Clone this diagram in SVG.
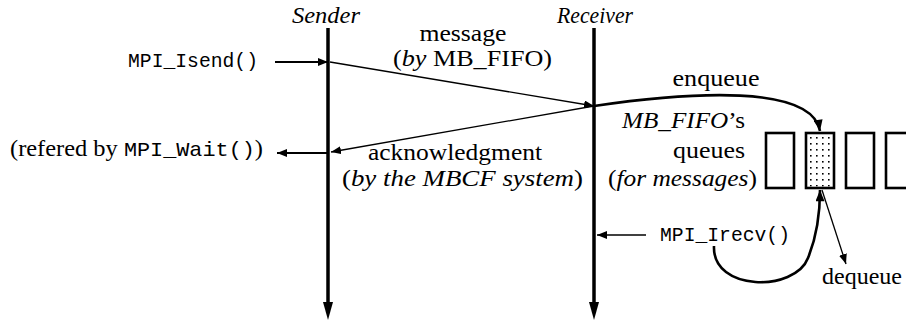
<svg xmlns="http://www.w3.org/2000/svg" width="906" height="324" viewBox="0 0 906 324">
<style>
.rm{font-family:"Liberation Serif","DejaVu Serif",serif;font-size:23.5px;fill:#000}
.it{font-style:italic}
.tt{font-family:"Liberation Mono","DejaVu Sans Mono",monospace;font-size:21px}
.life{stroke:#000;stroke-width:3.5;fill:none}
.thin{stroke:#000;stroke-width:1.3;fill:none}
.med{stroke:#000;stroke-width:2;fill:none}
.thick{stroke:#000;stroke-width:2.6;fill:none}
.box{fill:#fff;stroke:#000;stroke-width:2.6}
</style>
<defs>
<marker id="ah" viewBox="0 0 10 8" refX="10" refY="4" markerWidth="10" markerHeight="8" markerUnits="userSpaceOnUse" orient="auto"><path d="M0,0L10,4L0,8z" fill="#000"/></marker>
<marker id="ahb" viewBox="0 0 10 8" refX="10" refY="4" markerWidth="12" markerHeight="9" markerUnits="userSpaceOnUse" orient="auto"><path d="M0,0L10,4L0,8z" fill="#000"/></marker>
<pattern id="dots" x="808" y="135" width="6" height="6" patternUnits="userSpaceOnUse"><rect x="2" y="2" width="1.6" height="1.6" fill="#000"/></pattern>
</defs>

<g id="sender">
<text class="rm it" x="326" y="23" text-anchor="middle" textLength="68" lengthAdjust="spacingAndGlyphs">Sender</text>
<line class="life" x1="328" y1="28" x2="328" y2="305"/>
<path d="M323,302L333,302L328,320z" fill="#000"/>
</g>

<g id="receiver">
<text class="rm it" x="595" y="23" text-anchor="middle" textLength="76" lengthAdjust="spacingAndGlyphs">Receiver</text>
<line class="life" x1="594" y1="28" x2="594" y2="305"/>
<path d="M589,302L599,302L594,320z" fill="#000"/>
</g>

<g id="isend">
<text class="rm tt" x="128" y="67" textLength="130" lengthAdjust="spacingAndGlyphs">MPI_Isend()</text>
</g>

<g id="wait">
<text class="rm" x="10" y="156" textLength="253" lengthAdjust="spacingAndGlyphs">(refered by <tspan class="tt">MPI_Wait()</tspan>)</text>
</g>

<g id="message-label">
<text class="rm" x="463" y="41" text-anchor="middle" textLength="87" lengthAdjust="spacingAndGlyphs">message</text>
<text class="rm" x="393" y="66" textLength="159" lengthAdjust="spacingAndGlyphs">(<tspan class="it">by</tspan> MB_FIFO)</text>
</g>

<g id="ack-label">
<text class="rm" x="455" y="160" text-anchor="middle" textLength="174" lengthAdjust="spacingAndGlyphs">acknowledgment</text>
<text class="rm" x="342" y="186" textLength="241" lengthAdjust="spacingAndGlyphs">(<tspan class="it">by the MBCF system</tspan>)</text>
</g>

<g id="queues-label">
<text class="rm" x="745" y="128" text-anchor="end" textLength="123" lengthAdjust="spacingAndGlyphs"><tspan class="it">MB_FIFO</tspan>’s</text>
<text class="rm" x="745" y="158" text-anchor="end" textLength="72" lengthAdjust="spacingAndGlyphs">queues</text>
<text class="rm" x="608" y="186" textLength="149" lengthAdjust="spacingAndGlyphs">(<tspan class="it">for messages</tspan>)</text>
</g>

<g id="queues">
<rect class="box" x="766" y="133" width="28" height="55"/>
<rect class="box" x="806" y="133" width="28" height="55"/>
<rect x="807.5" y="134.5" width="25" height="52" fill="url(#dots)"/>
<rect class="box" x="846" y="133" width="28" height="55"/>
<rect class="box" x="886" y="133" width="28" height="55"/>
</g>

<g id="enqueue-label">
<text class="rm" x="716" y="86" text-anchor="middle" textLength="87" lengthAdjust="spacingAndGlyphs">enqueue</text>
</g>

<g id="irecv">
<text class="rm tt" x="660" y="241" textLength="130" lengthAdjust="spacingAndGlyphs">MPI_Irecv()</text>
</g>

<g id="dequeue-label">
<text class="rm" x="862" y="284" text-anchor="middle" textLength="80" lengthAdjust="spacingAndGlyphs">dequeue</text>
</g>

<g id="connectors">
<line class="med" x1="275" y1="62" x2="328" y2="62" marker-end="url(#ah)"/>
<line class="thin" x1="330" y1="62" x2="594" y2="106" marker-end="url(#ah)"/>
<line class="thin" x1="594" y1="106" x2="331" y2="152" marker-end="url(#ah)"/>
<line class="med" x1="328" y1="153" x2="277" y2="153" marker-end="url(#ah)"/>
<line class="thin" x1="646" y1="235" x2="597" y2="235" marker-end="url(#ah)"/>
<path class="thick" d="M594,106 C690,92 812,84 820,131" marker-end="url(#ahb)"/>
<path class="thick" d="M714,246 C712,292 795,292 808,258 C817,236 820,210 820,190" marker-end="url(#ahb)"/>
<line class="thin" x1="822" y1="190" x2="846" y2="264" marker-end="url(#ah)"/>
</g>
</svg>
